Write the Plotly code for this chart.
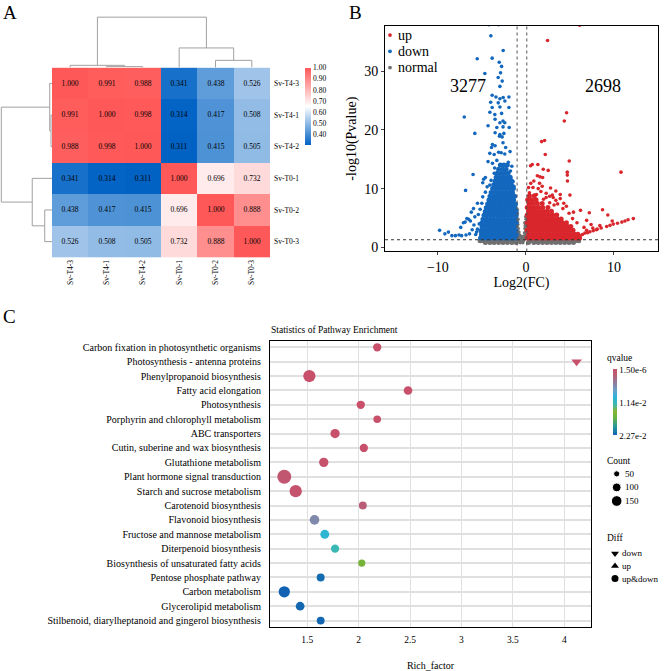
import plotly.graph_objects as go

W, H = 669, 671
FONT = "Liberation Serif, Times New Roman, serif"


def px(x):
    return x / W


def py(y):
    return 1 - y / H


# ---------------- Panel A data ----------------
samples = ["Sv-T4-3", "Sv-T4-1", "Sv-T4-2", "Sv-T0-1", "Sv-T0-2", "Sv-T0-3"]
corr = [
    [1.000, 0.991, 0.988, 0.341, 0.438, 0.526],
    [0.991, 1.000, 0.998, 0.314, 0.417, 0.508],
    [0.988, 0.998, 1.000, 0.311, 0.415, 0.505],
    [0.341, 0.314, 0.311, 1.000, 0.696, 0.732],
    [0.438, 0.417, 0.415, 0.696, 1.000, 0.888],
    [0.526, 0.508, 0.505, 0.732, 0.888, 1.000],
]
corr_ticks = [0.40, 0.50, 0.60, 0.70, 0.80, 0.90, 1.00]
# hierarchical clustering merges: (node a, node b, merge height); leaves 0..5, new nodes 6..
linkage = [(1, 2, 0.015), (0, 6, 0.035), (4, 5, 0.112), (3, 8, 0.304), (7, 9, 0.78)]

# ---------------- Panel B data ----------------
n_down = 3277
n_up = 2698
fc_thresholds = [-1.0, 0.1]
p_threshold = 1.3
volcano_groups = ["up", "down", "normal"]

down_points = [
    (-3.98, 36.0), (-2.58, 33.5), (-5.53, 32.1), (-3.83, 32.2), (-3.03, 31.5), (-2.76, 30.8),
    (-4.66, 29.6), (-2.88, 29.7), (-3.15, 28.9), (-2.69, 28.3), (-2.95, 27.4), (-3.83, 25.9),
    (-3.40, 25.6), (-2.95, 25.3), (-2.58, 25.5), (-1.93, 25.6), (-4.00, 24.7), (-3.14, 24.6),
    (-2.39, 24.9), (-3.83, 23.8), (-2.95, 23.9), (-1.93, 23.8), (-4.09, 23.0), (-3.53, 22.6),
    (-2.76, 22.8), (-7.00, 22.2), (-3.50, 21.8), (-2.60, 21.5), (-2.95, 21.2), (-2.40, 21.2),
    (-4.30, 20.7), (-3.30, 20.4), (-2.60, 20.5), (-1.90, 20.4), (-5.80, 19.4), (-3.50, 19.5),
    (-2.95, 19.2), (-2.50, 19.4), (-3.00, 18.9), (-2.70, 18.8),
    (-5.70, 38.0), (-4.20, 37.9), (-3.60, 38.1), (-3.10, 37.9), (-2.60, 38.0), (-2.30, 38.1),
    (-3.80, 17.5), (-3.90, 17.0), (-3.50, 17.3), (-2.60, 17.8), (-2.30, 17.0), (-4.10, 16.0),
    (-3.60, 15.8), (-3.10, 16.2), (-2.80, 16.1), (-2.40, 15.9), (-1.80, 16.3), (-4.30, 14.6),
    (-3.80, 14.3), (-3.30, 14.8), (-2.00, 14.5), (-1.60, 13.8), (-3.55, 13.5), (-1.75, 13.0),
    (-3.60, 12.6), (-1.45, 11.2), (-1.35, 10.4), (-4.10, 10.6), (-3.95, 11.4),
    (-6.00, 12.4), (-4.80, 11.6), (-4.90, 11.0), (-4.60, 11.9), (-6.85, 9.7), (-5.50, 7.5),
    (-6.20, 6.0), (-6.50, 4.8), (-6.90, 4.3), (-6.70, 4.9), (-7.10, 4.2), (-6.30, 4.5),
    (-5.80, 5.2), (-9.80, 2.9), (-9.20, 2.3), (-8.80, 2.6), (-8.40, 2.0), (-8.00, 2.0),
    (-7.60, 2.1), (-7.30, 2.0), (-6.80, 2.1), (-5.70, 2.2), (-7.40, 3.4), (-6.10, 3.0),
    (-5.90, 3.8), (-5.50, 3.1), (-5.30, 4.0), (-5.60, 2.6), (-5.40, 5.6), (-5.20, 6.5),
    (-5.00, 7.5), (-4.90, 8.6), (-4.60, 9.4), (-4.40, 10.3), (-6.40, 2.3), (-5.95, 6.6),
]
down_rows = [
    (1.60, [-5.15, -4.78, -4.40, -4.02, -3.60, -3.22, -2.80, -2.41, -2.00, -1.62, -1.20]),
    (2.20, [-5.05, -4.62, -4.20, -3.83, -3.41, -3.00, -2.60, -2.20, -1.80, -1.41, -1.08]),
    (2.85, [-5.12, -4.75, -4.35, -3.95, -3.55, -3.15, -2.76, -2.35, -1.95, -1.55, -1.15]),
    (3.50, [-4.98, -4.55, -4.14, -3.72, -3.32, -2.92, -2.50, -2.10, -1.70, -1.30]),
    (4.15, [-5.00, -4.62, -4.23, -3.85, -3.45, -3.05, -2.65, -2.27, -1.88, -1.48, -1.10]),
    (4.80, [-4.88, -4.45, -4.05, -3.65, -3.25, -2.85, -2.44, -2.03, -1.63, -1.24]),
    (5.45, [-4.76, -4.36, -3.94, -3.55, -3.12, -2.72, -2.33, -1.90, -1.50, -1.10]),
    (6.10, [-4.62, -4.20, -3.80, -3.40, -3.00, -2.60, -2.20, -1.80, -1.40, -1.12]),
    (6.75, [-4.50, -4.08, -3.68, -3.28, -2.88, -2.47, -2.06, -1.66, -1.25]),
    (7.40, [-4.35, -3.95, -3.55, -3.15, -2.75, -2.35, -1.95, -1.55, -1.18]),
    (8.05, [-4.20, -3.80, -3.40, -3.00, -2.60, -2.20, -1.80, -1.40]),
    (8.70, [-4.08, -3.65, -3.25, -2.85, -2.45, -2.05, -1.65, -1.28]),
    (9.35, [-3.95, -3.52, -3.12, -2.72, -2.32, -1.92, -1.52]),
    (10.00, [-3.78, -3.38, -2.98, -2.58, -2.18, -1.78, -1.42]),
    (10.65, [-3.65, -3.25, -2.85, -2.45, -2.05, -1.65]),
    (11.30, [-3.50, -3.10, -2.70, -2.30, -1.90, -1.62]),
    (11.95, [-3.38, -2.96, -2.56, -2.16, -1.78]),
    (12.60, [-3.25, -2.82, -2.42, -2.02]),
    (13.30, [-3.10, -2.65, -2.25]),
    (14.00, [-2.90, -2.50, -2.10]),
]
up_points = [
    (6.10, 37.8), (2.46, 35.2), (4.62, 22.9), (4.36, 21.5), (1.78, 18.0), (2.12, 18.2),
    (2.20, 15.8), (4.92, 14.7), (0.53, 13.9), (0.72, 14.1), (1.36, 14.1), (1.97, 13.3),
    (2.53, 13.1), (4.70, 12.8), (4.70, 12.3), (4.72, 11.3), (10.80, 12.8), (1.60, 12.0),
    (1.90, 11.9), (0.55, 10.9), (0.80, 10.2), (1.55, 10.9), (1.40, 10.0), (1.85, 10.4),
    (1.70, 9.5), (3.90, 9.0), (5.00, 8.9), (2.70, 8.7), (3.00, 8.9), (2.30, 8.5),
    (3.40, 8.0), (3.90, 8.3), (4.30, 7.5), (6.20, 6.3), (8.70, 6.4), (9.30, 5.5), (7.20, 5.9),
    (1.20, 9.0), (0.30, 10.2), (0.90, 11.3), (1.30, 12.2), (2.80, 10.1), (3.40, 9.6),
    (2.30, 9.2), (3.10, 8.5), (3.60, 7.4), (4.20, 6.6), (4.90, 5.8), (5.30, 4.9), (5.80, 4.2),
    (6.60, 3.4), (7.40, 3.9), (8.00, 3.0), (5.40, 6.0), (4.60, 7.0), (6.90, 4.6), (3.20, 7.2),
    (2.70, 7.6), (2.00, 8.2), (0.40, 9.3),
    (6.14, 1.97), (6.42, 2.20), (6.70, 2.43), (7.00, 2.50), (7.27, 2.65), (7.65, 2.85),
    (8.10, 3.10), (8.55, 3.30), (9.17, 3.56), (9.55, 3.75), (9.92, 3.96), (10.40, 4.10),
    (10.90, 4.30), (11.25, 4.50), (11.60, 4.70), (12.20, 4.90), (6.90, 2.90), (7.60, 3.30),
    (8.40, 3.70), (9.80, 4.50),
]
up_rows = [
    (1.60, [0.15, 0.55, 0.95, 1.35, 1.75, 2.15, 2.55, 2.95, 3.35, 3.75, 4.15, 4.55, 4.95, 5.35, 5.75, 6.10]),
    (2.25, [0.30, 0.72, 1.12, 1.52, 1.92, 2.32, 2.72, 3.12, 3.52, 3.92, 4.32, 4.72, 5.12, 5.52, 5.90]),
    (2.90, [0.15, 0.55, 0.95, 1.35, 1.75, 2.15, 2.55, 2.95, 3.35, 3.75, 4.15, 4.55, 4.95, 5.35]),
    (3.55, [0.30, 0.72, 1.12, 1.52, 1.92, 2.32, 2.72, 3.12, 3.52, 3.92, 4.32, 4.72, 5.10]),
    (4.20, [0.15, 0.55, 0.95, 1.35, 1.75, 2.15, 2.55, 2.95, 3.35, 3.75, 4.15, 4.60]),
    (4.85, [0.30, 0.72, 1.12, 1.52, 1.92, 2.32, 2.72, 3.12, 3.55, 4.00]),
    (5.50, [0.15, 0.55, 0.95, 1.35, 1.75, 2.15, 2.60, 3.05, 3.50]),
    (6.15, [0.30, 0.72, 1.12, 1.52, 1.95, 2.40, 2.90]),
    (6.80, [0.15, 0.55, 1.00, 1.45, 1.90, 2.50]),
    (7.45, [0.35, 0.80, 1.30, 1.85]),
    (8.10, [0.20, 0.65, 1.15]),
    (8.80, [0.40, 0.95]),
]
normal_points = [
    (-1.00, 2.0), (-0.95, 2.8), (-1.00, 3.5), (-0.95, 4.3), (-1.02, 5.0), (-0.98, 5.8),
    (-0.90, 2.4), (-0.88, 3.2), (-0.85, 1.8), (-0.80, 2.6), (-0.75, 1.6), (-0.70, 2.1),
    (-0.60, 1.5), (-0.50, 1.8), (-0.40, 1.5), (-0.30, 1.9), (-0.20, 1.6), (-0.15, 2.5),
    (-0.10, 3.2), (-0.05, 2.1), (0.00, 4.0), (0.02, 4.8), (-0.08, 3.7), (0.05, 2.9),
    (0.03, 1.7), (-0.92, 3.9), (-0.97, 6.4), (-0.90, 4.8), (-0.02, 5.2), (-0.12, 4.2),
    (-0.85, 1.2), (-0.55, 1.1), (-0.25, 1.2), (-0.65, 0.8), (-0.35, 0.8),
]
normal_rows = [
    (1.15, [-5.2, -4.8, -4.4, -4.0, -3.6, -3.2, -2.8, -2.4, -2.0, -1.6, -1.2, 0.4, 0.8, 1.2, 1.6,
            2.0, 2.4, 2.8, 3.2, 3.6, 4.0, 4.4, 4.8, 5.2, 5.6, 6.0]),
    (0.85, [-4.6, -4.1, -3.6, -3.1, -2.6, -2.1, -1.6, -1.1, 0.3, 0.9, 1.4, 1.9, 2.4, 2.9, 3.4,
            3.9, 4.4, 4.9, 5.4]),
]

# ---------------- Panel C data ----------------
pathways = [
    "Carbon fixation in photosynthetic organisms",
    "Photosynthesis - antenna proteins",
    "Phenylpropanoid biosynthesis",
    "Fatty acid elongation",
    "Photosynthesis",
    "Porphyrin and chlorophyll metabolism",
    "ABC transporters",
    "Cutin, suberine and wax biosynthesis",
    "Glutathione metabolism",
    "Plant hormone signal transduction",
    "Starch and sucrose metabolism",
    "Carotenoid biosynthesis",
    "Flavonoid biosynthesis",
    "Fructose and mannose metabolism",
    "Diterpenoid biosynthesis",
    "Biosynthesis of unsaturated fatty acids",
    "Pentose phosphate pathway",
    "Carbon metabolism",
    "Glycerolipid metabolism",
    "Stilbenoid, diarylheptanoid and gingerol biosynthesis",
]
rich_factor = [2.18, 4.12, 1.52, 2.48, 2.02, 2.18, 1.77, 2.05, 1.66, 1.276,
               1.387, 2.04, 1.57, 1.67, 1.77, 2.03, 1.63, 1.276, 1.43, 1.63]
gene_count = [90, 110, 198, 98, 92, 77, 113, 90, 115, 256,
              197, 83, 122, 106, 90, 70, 84, 168, 101, 83]
qvalue = [1.5e-6, 2.0e-5, 3.0e-5, 4.0e-5, 6.0e-5, 8.0e-5, 1.2e-4, 1.5e-4, 2.5e-4, 9.0e-4,
          4.0e-4, 1.8e-3, 5.7e-3, 1.02e-2, 1.2e-2, 1.59e-2, 2.22e-2, 2.27e-2, 2.24e-2, 2.25e-2]
diff = ["up&down", "down"] + ["up&down"] * 18
q_ticks = [1.5e-6, 1.14e-2, 2.27e-2]
q_ticktext = ["1.50e-6", "1.14e-2", "2.27e-2"]
count_keys = [50, 100, 150]
diff_keys = ["down", "up", "up&down"]

# ---------------- styles ----------------
heat_scale = [[0.0, "#0062C4"], [0.5, "#FFFFFF"], [1.0, "#FF5858"]]
q_scale = [
    [0.0, "#1262B4"], [0.12, "#1F979C"], [0.27, "#6DB33F"], [0.36, "#86B52E"],
    [0.46, "#3CB9B0"], [0.57, "#2AB4D8"], [0.68, "#6A9FC8"], [0.78, "#8A7F9E"],
    [0.90, "#B65F79"], [1.0, "#C8506A"],
]
group_colors = {"up": "#D9262C", "down": "#1368BE", "normal": "#707070"}
symbol_map = {"down": "triangle-down", "up": "triangle-up", "up&down": "circle"}
SIZEREF = 2.64
LINE_GREY = "#A0A0A0"

fig = go.Figure()

# ---------------- Panel A ----------------
fig.add_trace(go.Heatmap(
    z=corr, x=list(range(6)), y=list(range(6)),
    text=[[f"{v:.3f}" for v in row] for row in corr], texttemplate="%{text}",
    textfont=dict(family=FONT, size=7.5, color="black"),
    zmin=0.31, zmax=1.0, colorscale=heat_scale,
    colorbar=dict(x=px(305), xanchor="left", y=py(68), yanchor="top", len=77 / H,
                  lenmode="fraction", thickness=6, thicknessmode="pixels", outlinewidth=0,
                  tickvals=corr_ticks, ticktext=[f"{t:.2f}" for t in corr_ticks],
                  tickfont=dict(family=FONT, size=7.5), ticks="", xpad=0, ypad=0),
    xaxis="x", yaxis="y", hoverinfo="skip",
))


def dendro_lines(links, n):
    pos = {i: float(i) for i in range(n)}
    hgt = {i: 0.0 for i in range(n)}
    ps, hs = [], []
    for k, (a, b, h) in enumerate(links):
        ps += [pos[a], pos[a], pos[b], pos[b], None]
        hs += [hgt[a], h, h, hgt[b], None]
        pos[n + k] = (pos[a] + pos[b]) / 2
        hgt[n + k] = h
    return ps, hs


dp, dh = dendro_lines(linkage, len(samples))
fig.add_trace(go.Scatter(x=dp, y=dh, mode="lines", line=dict(color=LINE_GREY, width=1),
                         xaxis="x2", yaxis="y2", showlegend=False, hoverinfo="skip"))
fig.add_trace(go.Scatter(x=dh, y=dp, mode="lines", line=dict(color=LINE_GREY, width=1),
                         xaxis="x3", yaxis="y3", showlegend=False, hoverinfo="skip"))


# ---------------- Panel B ----------------
def split(points):
    return [p[0] for p in points], [p[1] for p in points]


def rows_xy(rows):
    xs, ys = [], []
    for yv, xr in rows:
        xs += xr
        ys += [yv] * len(xr)
    return xs, ys


volcano = {
    "normal": (normal_points, normal_rows),
    "down": (down_points, down_rows),
    "up": (up_points, up_rows),
}
for g in ["normal", "down", "up"]:
    pts, rows = volcano[g]
    cx, cy = rows_xy(rows)
    fig.add_trace(go.Scatter(x=cx, y=cy, mode="markers", name=g, showlegend=False,
                             marker=dict(color=group_colors[g], size=5.0, opacity=1),
                             xaxis="x4", yaxis="y4", hoverinfo="skip"))
    sx, sy = split(pts)
    fig.add_trace(go.Scatter(x=sx, y=sy, mode="markers", name=g, showlegend=False,
                             marker=dict(color=group_colors[g], size=3.6, opacity=1),
                             xaxis="x4", yaxis="y4", hoverinfo="skip"))

# ---------------- Panel C ----------------
fig.add_trace(go.Scatter(
    x=rich_factor, y=list(range(len(pathways))), mode="markers", showlegend=False,
    marker=dict(size=gene_count, sizemode="area", sizeref=SIZEREF, opacity=1,
                color=[-q for q in qvalue], cmin=-max(q_ticks), cmax=-min(q_ticks),
                colorscale=q_scale, symbol=[symbol_map[d] for d in diff], line=dict(width=0),
                colorbar=dict(x=px(612.7), xanchor="left", y=py(371.7), yanchor="top",
                              len=66.6 / H, lenmode="fraction", thickness=4, thicknessmode="pixels",
                              outlinewidth=0, tickvals=[-q for q in q_ticks], ticktext=q_ticktext,
                              tickfont=dict(family=FONT, size=9), ticks="", xpad=0, ypad=0)),
    xaxis="x5", yaxis="y5", hoverinfo="skip",
))

# ---------------- legend keys on a hidden pixel-space axis ----------------
fig.add_trace(go.Scatter(x=[390] * 3, y=[35.3, 51.6, 68.0], mode="markers", showlegend=False,
                         marker=dict(size=3.8, color=[group_colors[g] for g in volcano_groups]),
                         xaxis="x6", yaxis="y6", hoverinfo="skip"))
fig.add_trace(go.Scatter(x=[616.7] * 3, y=[476.7, 490.3, 504.0], mode="markers", showlegend=False,
                         marker=dict(size=count_keys, sizemode="area", sizeref=SIZEREF, color="black",
                                     opacity=1),
                         xaxis="x6", yaxis="y6", hoverinfo="skip"))
fig.add_trace(go.Scatter(x=[615.0] * 3, y=[556.7, 569.3, 582.0], mode="markers", showlegend=False,
                         marker=dict(size=7, color="black", symbol=[symbol_map[d] for d in diff_keys]),
                         xaxis="x6", yaxis="y6", hoverinfo="skip"))

# ---------------- layout ----------------
hidden = dict(visible=False, showgrid=False, zeroline=False)
axis_line = dict(showline=True, mirror=True, linecolor="black", linewidth=1, zeroline=False)

shapes = []
for v in fc_thresholds:
    shapes.append(dict(type="line", xref="x4", yref="y4 domain", x0=v, x1=v, y0=0, y1=1,
                       line=dict(color="#555555", width=1, dash="dot")))
shapes.append(dict(type="line", xref="x4 domain", yref="y4", x0=0, x1=1, y0=p_threshold, y1=p_threshold,
                   line=dict(color="#333333", width=1, dash="dot")))


def key_text(text, x, y, size):
    return dict(text=text, x=x, y=y, xref="x6", yref="y6", xanchor="left", yanchor="middle",
                showarrow=False, font=dict(size=size))


annotations = [
    dict(text="A", x=px(1), y=py(0), xref="paper", yref="paper", xanchor="left", yanchor="top",
         showarrow=False, font=dict(size=19)),
    dict(text="B", x=px(347), y=py(0), xref="paper", yref="paper", xanchor="left", yanchor="top",
         showarrow=False, font=dict(size=19)),
    dict(text="C", x=px(1), y=py(306), xref="paper", yref="paper", xanchor="left", yanchor="top",
         showarrow=False, font=dict(size=19)),
    dict(text=str(n_down), x=-6.6, y=27.4, xref="x4", yref="y4", showarrow=False, font=dict(size=18)),
    dict(text=str(n_up), x=8.75, y=27.4, xref="x4", yref="y4", showarrow=False, font=dict(size=18)),
    dict(text="Statistics of Pathway Enrichment", x=px(269), y=py(332), xref="paper", yref="paper",
         xanchor="left", yanchor="middle", showarrow=False, font=dict(size=9.5)),
    key_text("qvalue", 605, 360, 9.5),
    key_text("Count", 605, 464, 9.5),
    key_text("Diff", 605, 541.7, 9.5),
]
for yv, g in zip([35.3, 51.6, 68.0], volcano_groups):
    annotations.append(key_text(g, 396, yv, 14))
for yv, c in zip([476.7, 490.3, 504.0], count_keys):
    annotations.append(key_text(str(c), 623, yv, 9))
for yv, d in zip([556.7, 569.3, 582.0], diff_keys):
    annotations.append(key_text(d, 620, yv, 9))

fig.update_layout(
    width=W, height=H, margin=dict(l=0, r=0, t=0, b=0),
    paper_bgcolor="white", plot_bgcolor="rgba(0,0,0,0)",
    font=dict(family=FONT, color="black"),
    showlegend=False,
    xaxis=dict(domain=[px(52), px(270)], range=[-0.5, 5.5], anchor="y", tickvals=list(range(6)),
               ticktext=samples, tickangle=-90, tickfont=dict(size=7.5), showgrid=False,
               zeroline=False, ticks=""),
    yaxis=dict(domain=[py(259), py(68)], range=[5.5, -0.5], anchor="x", side="right",
               tickvals=list(range(6)), ticktext=samples, tickfont=dict(size=7.5), showgrid=False,
               zeroline=False, ticks="", ticklabelstandoff=3),
    xaxis2=dict(domain=[px(52), px(270)], range=[-0.5, 5.5], anchor="y2", **hidden),
    yaxis2=dict(domain=[py(68), py(15)], range=[0, 0.815], anchor="x2", **hidden),
    xaxis3=dict(domain=[0, px(52)], range=[0.80, 0], anchor="y3", **hidden),
    yaxis3=dict(domain=[py(259), py(68)], range=[5.5, -0.5], anchor="x3", **hidden),
    xaxis4=dict(domain=[px(385), px(658)], range=[-16, 15], anchor="y4", tickvals=[-10, 0, 10],
                ticks="outside", ticklen=3, tickfont=dict(size=14), showgrid=False,
                title=dict(text="Log2(FC)", font=dict(size=14), standoff=2), **axis_line),
    yaxis4=dict(domain=[py(253), py(26)], range=[-0.7, 37.7], anchor="x4", tickvals=[0, 10, 20, 30],
                ticks="outside", ticklen=3, tickfont=dict(size=14), showgrid=False,
                title=dict(text="-log10(Pvalue)", font=dict(size=14), standoff=4), **axis_line),
    xaxis5=dict(domain=[px(270), px(591)], range=[1.137, 4.26], anchor="y5",
                tickvals=[1.5, 2, 2.5, 3, 3.5, 4], ticktext=["1.5", "2", "2.5", "3", "3.5", "4"],
                ticks="", tickfont=dict(size=9.5), ticklabelstandoff=3,
                showgrid=True, gridcolor="#E0E0E0", gridwidth=1,
                title=dict(text="Rich_factor", font=dict(size=10), standoff=18), **axis_line),
    yaxis5=dict(domain=[py(631), py(342.7)], range=[19.46, -0.46], anchor="x5",
                tickvals=list(range(len(pathways))), ticktext=pathways, tickfont=dict(size=10),
                ticks="", ticklabelstandoff=6, showgrid=True, gridcolor="#E0E0E0", gridwidth=1.5,
                **axis_line),
    xaxis6=dict(domain=[0, 1], range=[0, W], anchor="y6", **hidden),
    yaxis6=dict(domain=[0, 1], range=[H, 0], anchor="x6", **hidden),
    shapes=shapes,
    annotations=annotations,
)

fig.write_html("out.html", config={"displayModeBar": False},
               post_script="document.body.style.margin='0';")
